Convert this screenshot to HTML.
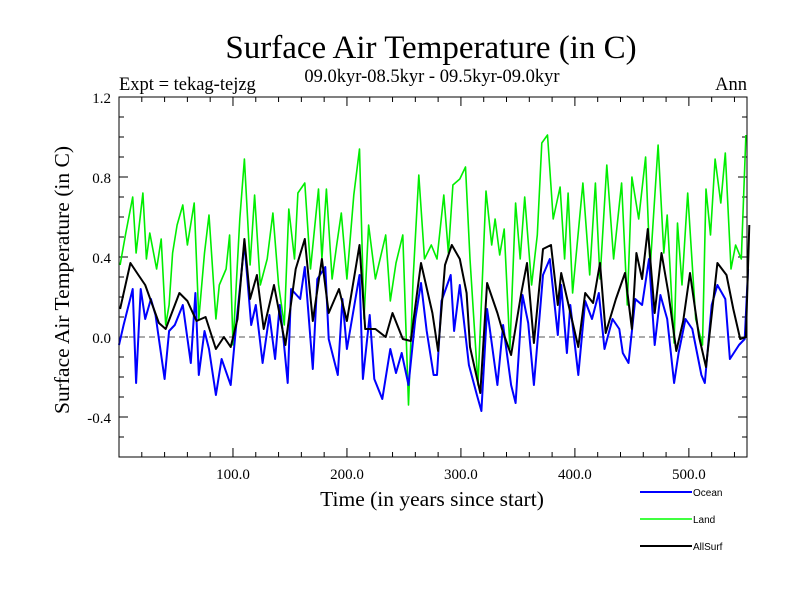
<!DOCTYPE html>
<html><head><meta charset="utf-8"><style>
body{margin:0;background:#fff}
svg{display:block;font-family:"Liberation Serif",serif}
</style></head><body>
<svg width="800" height="600" viewBox="0 0 800 600">
<rect width="800" height="600" fill="#fff"/>
<text x="431" y="58" text-anchor="middle" font-size="33">Surface Air Temperature (in C)</text>
<text x="432" y="82" text-anchor="middle" font-size="18.5">09.0kyr-08.5kyr - 09.5kyr-09.0kyr</text>
<text x="119" y="90" font-size="18.5">Expt = tekag-tejzg</text>
<text x="747" y="90" text-anchor="end" font-size="18.5">Ann</text>
<text transform="translate(69,280) rotate(-90)" text-anchor="middle" font-size="21.5">Surface Air Temperature (in C)</text>
<text x="432" y="506" text-anchor="middle" font-size="21.5">Time (in years since start)</text>
<g id="plot"></g>
<rect x="119" y="97" width="628" height="360" fill="none" stroke="#000" stroke-width="1"/>
<g font-family="Liberation Sans, sans-serif" font-size="10">
<line x1="640" y1="492" x2="692" y2="492" stroke="#0000ff" stroke-width="2"/>
<text x="693" y="496">Ocean</text>
<line x1="640" y1="519" x2="692" y2="519" stroke="#00ff00" stroke-width="1.5"/>
<text x="693" y="523">Land</text>
<line x1="640" y1="546" x2="692" y2="546" stroke="#000" stroke-width="2"/>
<text x="693" y="550">AllSurf</text>
</g>
</svg>
<script>
const yTickValues=[1.2,0.8,0.4,0.0,-0.4];
const yTickLabels=["1.2","0.8","0.4","0.0","-0.4"];
const xTickValues=[100,200,300,400,500];
const xTickLabels=["100.0","200.0","300.0","400.0","500.0"];
const landYears=[1,6,12,15,21,24,27,33,37,41,44,47,51,56,60,66,70,75,79,85,88,94,97,100,106,110,115,119,124,130,135,140,145,149,154,157,163,168,175,178,182,187,191,195,200,206,211,215,219,225,234,238,243,249,254,258,263,268,274,279,285,289,293,299,304,308,315,322,327,330,334,338,343,348,352,356,362,367,371,376,381,387,391,394,398,407,413,418,422,428,434,441,446,450,456,462,466,473,478,481,487,490,494,499,506,512,515,519,523,528,532,537,541,546,550];
const landValues=[0.36,0.52,0.70,0.42,0.72,0.39,0.52,0.34,0.49,0.06,0.16,0.42,0.56,0.66,0.46,0.67,0.09,0.42,0.61,0.09,0.26,0.34,0.51,-0.04,0.59,0.89,0.36,0.71,0.26,0.39,0.62,0.26,0.06,0.64,0.39,0.72,0.77,0.34,0.74,0.39,0.74,0.29,0.46,0.62,0.29,0.71,0.94,0.09,0.56,0.29,0.51,0.18,0.37,0.51,-0.34,0.29,0.81,0.39,0.46,0.39,0.71,0.42,0.76,0.79,0.85,0.39,-0.24,0.73,0.46,0.59,0.41,0.54,-0.06,0.67,0.39,0.70,0.26,0.51,0.97,1.01,0.59,0.75,0.39,0.72,0.22,0.77,0.31,0.77,0.29,0.86,0.39,0.77,0.16,0.80,0.59,0.90,0.34,0.96,0.42,0.61,-0.03,0.57,0.26,0.72,0.09,-0.04,0.74,0.51,0.89,0.67,0.92,0.34,0.46,0.39,1.01];
const oceanYears=[0,4,12,15,19,23,28,32,40,44,49,56,63,67,70,75,79,85,90,98,103,110,116,120,126,132,137,141,144,148,151,159,163,170,174,181,184,192,196,200,211,214,220,224,231,238,243,248,254,260,265,270,276,279,283,291,294,299,307,314,318,323,332,337,344,348,354,359,364,372,378,385,388,393,396,403,409,415,421,426,433,439,442,447,453,459,465,470,475,481,487,491,497,503,511,514,520,525,532,536,544,549,552];
const oceanValues=[-0.04,0.06,0.24,-0.23,0.24,0.09,0.19,0.11,-0.21,0.03,0.06,0.16,-0.13,0.22,-0.19,0.03,-0.06,-0.29,-0.11,-0.24,0.07,0.47,0.06,0.16,-0.13,0.11,-0.11,0.16,0.01,-0.23,0.24,0.19,0.35,-0.16,0.29,0.35,-0.01,-0.19,0.19,-0.06,0.31,-0.21,0.11,-0.21,-0.31,-0.06,-0.18,-0.08,-0.24,0.09,0.27,0.03,-0.19,-0.19,0.18,0.31,0.03,0.26,-0.14,-0.29,-0.37,0.14,-0.24,0.06,-0.24,-0.33,0.21,0.07,-0.24,0.31,0.39,0.01,0.26,-0.08,0.16,-0.19,0.18,0.09,0.22,-0.06,0.09,0.04,-0.08,-0.13,0.19,0.16,0.39,-0.04,0.21,0.09,-0.23,-0.08,0.09,0.04,-0.19,-0.23,0.16,0.26,0.19,-0.11,-0.04,-0.01,0.34];
const allYears=[1,10,17,23,35,41,53,60,68,76,85,92,98,104,110,115,121,127,136,146,155,163,170,178,184,193,200,211,216,225,234,240,249,256,265,275,280,286,292,299,305,308,317,323,332,336,344,353,358,364,372,379,385,388,394,403,409,416,422,427,436,444,450,454,459,464,470,476,482,489,495,501,509,515,525,533,539,545,550,553];
const allValues=[0.14,0.37,0.31,0.26,0.07,0.04,0.22,0.18,0.08,0.10,-0.06,0.00,-0.05,0.09,0.49,0.19,0.31,0.04,0.26,-0.04,0.34,0.49,0.08,0.39,0.12,0.24,0.08,0.46,0.04,0.04,0.00,0.12,-0.01,-0.02,0.37,0.12,-0.07,0.36,0.46,0.39,0.22,-0.05,-0.28,0.27,0.12,0.04,-0.09,0.22,0.37,-0.03,0.44,0.46,0.16,0.32,0.17,-0.05,0.22,0.17,0.37,0.02,0.19,0.32,0.04,0.42,0.29,0.54,0.12,0.42,0.22,-0.07,0.08,0.32,0.00,-0.15,0.37,0.31,0.14,-0.01,0.00,0.56];

const X0=119,X1=747,Y0=97,Y1=457,XMIN=0,XMAX=551,YMIN=-0.6,YMAX=1.2;
function xs(v){return X0+(v-XMIN)/(XMAX-XMIN)*(X1-X0);}
function ys(v){return Y1-(v-YMIN)/(YMAX-YMIN)*(Y1-Y0);}
const NS="http://www.w3.org/2000/svg";
const g=document.getElementById('plot');
function mk(t,a){const e=document.createElementNS(NS,t);for(const k in a)e.setAttribute(k,a[k]);g.appendChild(e);return e;}
for(let v=-0.5;v<1.2;v+=0.1){const y=ys(v);const major=yTickValues.some(t=>Math.abs(t-v)<1e-6);const L=major?9:5;
 const a=mk('line',{x1:X0,y1:y,x2:X0+L,y2:y,stroke:'#000'});
 const b=mk('line',{x1:X1,y1:y,x2:X1-L,y2:y,stroke:'#000'});}
for(let v=20;v<XMAX;v+=20){const x=xs(v);const major=v%100===0;const L=major?9:5;
 const a=mk('line',{x1:x,y1:Y1,x2:x,y2:Y1-L,stroke:'#000'});
 const b=mk('line',{x1:x,y1:Y0,x2:x,y2:Y0+L,stroke:'#000'});}
yTickValues.forEach((v,i)=>{const t=mk('text',{x:X0-8,y:ys(v)+6,'text-anchor':'end','font-size':15});t.textContent=yTickLabels[i];
 });
xTickValues.forEach((v,i)=>{const t=mk('text',{x:xs(v),y:Y1+22,'text-anchor':'middle','font-size':15});t.textContent=xTickLabels[i];
 });
const z=mk('line',{x1:X0,y1:ys(0),x2:X1,y2:ys(0),stroke:'#555','stroke-dasharray':'6,4'});


function series(xsA,vs,color,w,name){const d=xsA.map((x,i)=>(i?'L':'M')+xs(x).toFixed(1)+','+ys(vs[i]).toFixed(1)).join('');
 const p=mk('path',{d:d,fill:'none',stroke:color,'stroke-width':w,'stroke-linejoin':'round'});
 
 }
series(landYears,landValues,'#00ee00',1.6,'land-line');
series(oceanYears,oceanValues,'#0000ff',2,'ocean-line');
series(allYears,allValues,'#000',2,'allsurf-line');
</script>
</body></html>
